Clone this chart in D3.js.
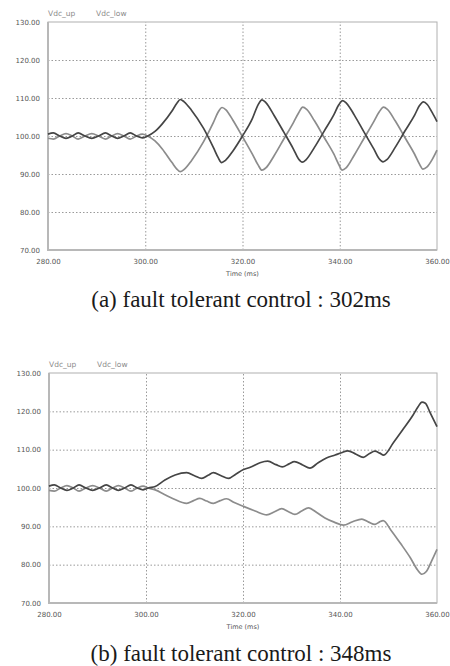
<!DOCTYPE html>
<html>
<head>
<meta charset="utf-8">
<script src="https://cdn.jsdelivr.net/npm/d3@7"></script>
<style>
  body { margin: 0; background: #fff; }
  svg { display: block; }
  .tick text { font-family: "DejaVu Sans", sans-serif; font-size: 7px; fill: #555; }
</style>
</head>
<body>
<svg width="450" height="666"></svg>
<script>
// time axis (ms) and voltage ticks
const xTicks = [280, 300, 320, 340, 360];
const yTicks = [70, 80, 90, 100, 110, 120, 130];
const seriesNames = ['Vdc_up', 'Vdc_low'];
const captions = ['(a) fault tolerant control : 302ms', '(b) fault tolerant control : 348ms'];

// before the fault both capacitor voltages ripple around 100
const preUp = [[280,100.5],[281.1,100.8],[282.4,100],[283.7,99.4],[285,100],[286.2,100.8],[287.6,100],[289,99.4],
  [290.4,100],[291.8,100.8],[293.1,100],[294.3,99.4],[295.6,100],[296.9,100.8],[298.2,100],[299.4,99.5]];
const preLow = [[280,99.4],[281.1,99.2],[282.4,100],[283.7,100.6],[285,100],[286.2,99.2],[287.6,100],[289,100.6],
  [290.4,100],[291.8,99.2],[293.1,100],[294.3,100.6],[295.6,100],[296.9,99.2],[298.2,100],[299.4,100.5]];

// (a) after 300ms
const upA = [[300.5,100],[302,101.2],[303.5,103.2],[305.5,106.6],[306.5,108.6],[307.2,109.6],[308,109],[309.5,106.8],
  [312,102],[314,97],[315,94.3],[315.7,93],[316.5,93.6],[318,96],[320,100],[322,104.5],[323.2,108.2],[324,109.5],
  [324.8,108.8],[326.5,105.4],[328.5,101],[330.5,96.5],[331.5,94],[332.3,93.1],[333.1,93.8],[334.8,97],[336.8,101.3],
  [338.8,105.6],[339.8,108.2],[340.6,109.3],[341.4,108.6],[343,105.5],[345,101],[347,96.6],[348.1,94],[348.9,93.2],
  [349.7,93.8],[351.4,97],[353.4,101.3],[355.4,105.5],[356.4,108],[357.2,109],[358,108.3],[359,106.2],[360,103.8]];
const lowA = [[300.5,100],[302,98.7],[303.5,96.6],[305.5,93],[306.5,91.3],[307.2,90.6],[308,91.2],[309.5,93.5],
  [312,98.5],[314,103.5],[315,106.3],[315.8,107.5],[316.6,106.9],[318,104.2],[320,99.8],[322,95.3],[323.2,92.4],[324,91],
  [324.8,91.6],[326.5,94.8],[328.5,99.2],[330.5,103.6],[331.5,106],[332.4,107.6],[333.2,107],[334.8,104],[336.8,99.6],
  [338.8,95.2],[339.8,92.5],[340.5,91],[341.3,91.6],[343,95],[345,99.4],[347,103.8],[348.1,106.3],[349,107.6],
  [349.8,107],[351.4,104],[353.4,99.6],[355.4,95.2],[356.4,92.6],[357.1,91.3],[357.9,91.8],[359,93.8],[360,96.3]];

// (b) after 300ms
const upB = [[300.5,100],[301.9,100.4],[303.9,102.1],[306,103.4],[308.4,104],[310,103.2],[311.5,102.5],[312.8,103.3],
  [313.9,104],[315.5,103.2],[317,102.5],[318.5,103.6],[320.1,104.8],[321.5,105.4],[323.5,106.6],[325.1,107],[326.8,106.1],
  [328.1,105.5],[329.5,106.3],[330.6,106.9],[332.3,106],[333.8,105.2],[335.5,106.6],[337.2,107.8],[339,108.6],
  [340.3,109.2],[341.6,109.7],[343.3,108.8],[344.8,108],[346.1,109],[347.2,109.6],[348.2,109.1],[349,108.6],
  [351,111.8],[353,115.3],[355,118.9],[356.1,121.2],[356.9,122.4],[357.6,122.1],[358.6,119.6],[360,116]];
const lowB = [[300.5,100],[301.9,99.5],[303.8,98.3],[305.6,97.2],[308.4,96],[309.8,96.7],[311.1,97.3],[312.5,96.6],
  [313.9,96],[315.3,96.7],[316.6,97.2],[318.2,96.2],[320.1,95.2],[322.5,94],[324.9,93],[326.5,93.8],[328,94.6],
  [329.4,93.8],[330.7,93.1],[332.1,94],[333.5,94.8],[335.2,93.6],[336.9,92.2],[338.8,91.1],[340.7,90.3],[342.6,91.2],
  [344.5,91.9],[345.9,91.1],[347.2,90.5],[348.1,91.1],[348.9,91.5],[350.5,89],[352.5,85.5],[354.5,81.8],[356,78.6],
  [356.9,77.5],[357.8,78.2],[358.9,81],[360,84]];

const colors = ['#454545', '#8c8c8c'];

const svg = d3.select('svg');

function drawPanel(p) {
  const x = d3.scaleLinear().domain([280, 360]).range([p.left, p.right]);
  const y = d3.scaleLinear().domain([70, 130]).range([p.bottom, p.top]);
  const g = svg.append('g');

  // dotted grid
  g.append('g')
      .attr('transform', `translate(0,${p.bottom})`)
      .call(d3.axisBottom(x).tickValues(xTicks.slice(1, -1)).tickSize(-(p.bottom - p.top)).tickFormat(''))
      .call(a => a.select('.domain').remove())
      .call(a => a.selectAll('line').attr('stroke', '#9a9a9a').attr('stroke-dasharray', '1.5,2'));
  g.append('g')
      .attr('transform', `translate(${p.left},0)`)
      .call(d3.axisLeft(y).tickValues(yTicks.slice(1, -1)).tickSize(-(p.right - p.left)).tickFormat(''))
      .call(a => a.select('.domain').remove())
      .call(a => a.selectAll('line').attr('stroke', '#9a9a9a').attr('stroke-dasharray', '1.5,2'));

  // frame
  g.append('rect')
      .attr('x', p.left).attr('y', p.top)
      .attr('width', p.right - p.left).attr('height', p.bottom - p.top)
      .attr('fill', 'none').attr('stroke', '#b0b0b0').attr('stroke-width', 1);
  g.append('path')
      .attr('d', `M${p.left},${p.top}V${p.bottom}H${p.right}`)
      .attr('fill', 'none').attr('stroke', '#b8b8b8').attr('stroke-width', 2);

  // tick labels
  g.append('g')
      .attr('transform', `translate(${p.left - 2},0)`)
      .call(d3.axisLeft(y).tickValues(yTicks).tickSize(0).tickPadding(6).tickFormat(d3.format('.2f')))
      .call(a => a.select('.domain').remove());
  g.append('g')
      .attr('transform', `translate(0,${p.bottom + 5})`)
      .call(d3.axisBottom(x).tickValues(xTicks).tickSize(0).tickPadding(4).tickFormat(d3.format('.2f')))
      .call(a => a.select('.domain').remove());

  g.append('text')
      .attr('x', x(320)).attr('y', p.bottom + 26)
      .attr('text-anchor', 'middle')
      .attr('font-family', 'DejaVu Sans, sans-serif').attr('font-size', 6.5).attr('fill', '#555')
      .text('Time (ms)');

  // legend
  const legendX = [p.left, p.left + 48];
  seriesNames.forEach((name, i) => {
    g.append('text')
        .attr('x', legendX[i]).attr('y', p.top - 6)
        .attr('font-family', 'DejaVu Sans, sans-serif').attr('font-size', 7.5).attr('fill', '#8a8a8a')
        .text(name);
  });

  const line = d3.line()
      .x(d => x(d[0]))
      .y(d => y(d[1]))
      .curve(d3.curveMonotoneX);

  [p.low, p.up].forEach((data, i) => {
    g.append('path')
        .datum(data)
        .attr('d', line)
        .attr('fill', 'none')
        .attr('stroke', colors[1 - i])
        .attr('stroke-width', 1.7)
        .attr('stroke-linejoin', 'round');
  });

  g.append('text')
      .attr('x', 241).attr('y', p.captionY)
      .attr('text-anchor', 'middle')
      .attr('font-family', 'Liberation Serif, Times New Roman, serif').attr('font-size', 23).attr('fill', '#1a1a1a')
      .text(p.caption);
}

drawPanel({ left: 48, right: 437, top: 22, bottom: 250, captionY: 307,
  up: preUp.concat(upA), low: preLow.concat(lowA), caption: captions[0] });
drawPanel({ left: 49, right: 437, top: 373, bottom: 603, captionY: 661,
  up: preUp.concat(upB), low: preLow.concat(lowB), caption: captions[1] });
</script>
</body>
</html>
